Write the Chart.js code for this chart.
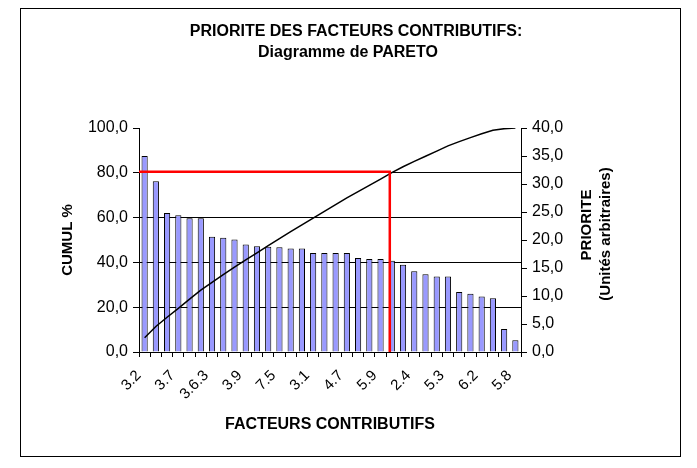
<!DOCTYPE html>
<html>
<head>
<meta charset="utf-8">
<script src="https://cdn.jsdelivr.net/npm/chart.js@4"></script>
<style>
  html, body { margin: 0; padding: 0; background: #fff; }
  canvas { display: block; }
</style>
</head>
<body>
<canvas id="pareto" width="697" height="468"></canvas>
<script>
// Factor codes shown on the category axis (one every third factor)
const factorLabels = ['3.2', '3.7', '3.6.3', '3.9', '7.5', '3.1', '4.7', '5.9', '2.4', '5.3', '6.2', '5.8'];

// Priority of each contributing factor (arbitrary units), sorted descending
const priority = [35.0, 30.5, 24.8, 24.4, 23.9, 23.9, 20.6, 20.4, 20.1, 19.2, 18.9, 18.8,
                  18.7, 18.5, 18.5, 17.7, 17.7, 17.7, 17.7, 16.8, 16.6, 16.6, 16.3, 15.6,
                  14.4, 13.9, 13.5, 13.5, 10.7, 10.4, 9.9, 9.6, 4.1, 2.1];

// Cumulative share (%)
const cumulPct = [6.4, 11.4, 15.5, 19.5, 23.6, 27.6, 31.1, 34.5, 37.9, 41.1, 44.3, 47.5,
                  50.6, 53.7, 56.8, 59.8, 62.8, 65.8, 68.8, 71.6, 74.4, 77.2, 80.1, 82.7,
                  85.1, 87.4, 89.7, 92.0, 93.9, 95.7, 97.4, 99.0, 99.7, 100.0];

// 80 % cut-off and the factor where the cumulative curve reaches it
const paretoThreshold = 80;
const cutoffIndex = 22;

const categories = priority.map((_, i) => (i % 3 === 0 ? factorLabels[i / 3] : ''));

const FONT = "'Liberation Sans', Arial, Helvetica, sans-serif";
const fmt = v => Number(v).toFixed(1).replace('.', ',');

const decor = {
  id: 'decor',
  beforeDraw(chart) {
    const ctx = chart.ctx;
    ctx.save();
    ctx.fillStyle = '#fff';
    ctx.fillRect(0, 0, chart.width, chart.height);
    ctx.strokeStyle = '#000';
    ctx.lineWidth = 1;
    ctx.strokeRect(20.5, 8.5, 660, 448);
    ctx.restore();
  },
  afterDatasetsDraw(chart) {
    // 80 % cut-off lines
    const { ctx, chartArea } = chart;
    const x = chart.scales.x.getPixelForValue(cutoffIndex) - 2;
    const yT = chart.scales.y.getPixelForValue(paretoThreshold);
    const y0 = chart.scales.y.getPixelForValue(0);
    ctx.save();
    ctx.strokeStyle = '#ff0000';
    ctx.lineWidth = 2.5;
    ctx.beginPath();
    ctx.moveTo(chartArea.left, yT - 1);
    ctx.lineTo(x, yT - 1);
    ctx.lineTo(x, y0);
    ctx.stroke();
    ctx.restore();
  },
  afterDraw(chart) {
    const ctx = chart.ctx;
    ctx.save();
    ctx.fillStyle = '#000';
    ctx.textAlign = 'center';
    ctx.textBaseline = 'middle';
    ctx.font = 'bold 16px ' + FONT;
    ctx.fillText('PRIORITE DES FACTEURS CONTRIBUTIFS:', 356, 32);
    ctx.fillText('Diagramme de PARETO', 348, 53);
    ctx.fillText('FACTEURS CONTRIBUTIFS', 330, 425);

    ctx.font = 'bold 15px ' + FONT;
    ctx.save();
    ctx.translate(68, 240);
    ctx.rotate(-Math.PI / 2);
    ctx.fillText('CUMUL %', 0, 0);
    ctx.restore();

    ctx.save();
    ctx.translate(587, 225);
    ctx.rotate(-Math.PI / 2);
    ctx.fillText('PRIORITE', 0, 0);
    ctx.restore();

    ctx.save();
    ctx.translate(606, 234);
    ctx.rotate(-Math.PI / 2);
    ctx.fillText('(Unités arbitraires)', 0, 0);
    ctx.restore();

    ctx.restore();
  }
};

new Chart(document.getElementById('pareto'), {
  type: 'bar',
  data: {
    labels: categories,
    datasets: [
      {
        type: 'line',
        label: 'CUMUL %',
        data: cumulPct,
        yAxisID: 'y',
        borderColor: '#000',
        borderWidth: 1.5,
        pointRadius: 0,
        tension: 0,
        fill: false,
        order: 0
      },
      {
        type: 'bar',
        label: 'PRIORITE',
        data: priority,
        yAxisID: 'y1',
        backgroundColor: '#9999ff',
        borderColor: '#000',
        borderWidth: 1,
        barPercentage: 0.55,
        categoryPercentage: 1.0,
        order: 1
      }
    ]
  },
  options: {
    responsive: false,
    animation: false,
    devicePixelRatio: 1,
    layout: { padding: { top: 128, left: 0, right: 0, bottom: 0 } },
    plugins: {
      legend: { display: false },
      title: { display: false },
      tooltip: { enabled: false }
    },
    scales: {
      x: {
        offset: true,
        grid: { offset: true, drawOnChartArea: false, drawTicks: true, tickLength: 5, color: '#000' },
        border: { color: '#000', width: 1 },
        ticks: {
          autoSkip: false,
          minRotation: 45,
          maxRotation: 45,
          color: '#000',
          padding: 4,
          font: { family: FONT, size: 15 },
          callback(value, index) { const t = categories[index]; return t ? t + '  ' : ''; }
        },
        afterFit(scale) { scale.height = 116; }
      },
      y: {
        position: 'left',
        min: 0,
        max: 100,
        ticks: {
          stepSize: 20,
          color: '#000',
          padding: 5,
          font: { family: FONT, size: 16 },
          callback: v => fmt(v)
        },
        grid: {
          color: c => (c.tick && c.tick.value === 100 ? 'rgba(0,0,0,0)' : '#000'),
          tickColor: '#000',
          tickLength: 6,
          lineWidth: 1
        },
        border: { color: '#000', width: 1 },
        afterFit(scale) { scale.width = 139; }
      },
      y1: {
        position: 'right',
        min: 0,
        max: 40,
        ticks: {
          stepSize: 5,
          color: '#000',
          padding: 5,
          font: { family: FONT, size: 16 },
          callback: v => fmt(v)
        },
        grid: { drawOnChartArea: false, tickLength: 6, color: '#000' },
        border: { color: '#000', width: 1 },
        afterFit(scale) { scale.width = 176; }
      }
    }
  },
  plugins: [decor]
});
</script>
</body>
</html>
